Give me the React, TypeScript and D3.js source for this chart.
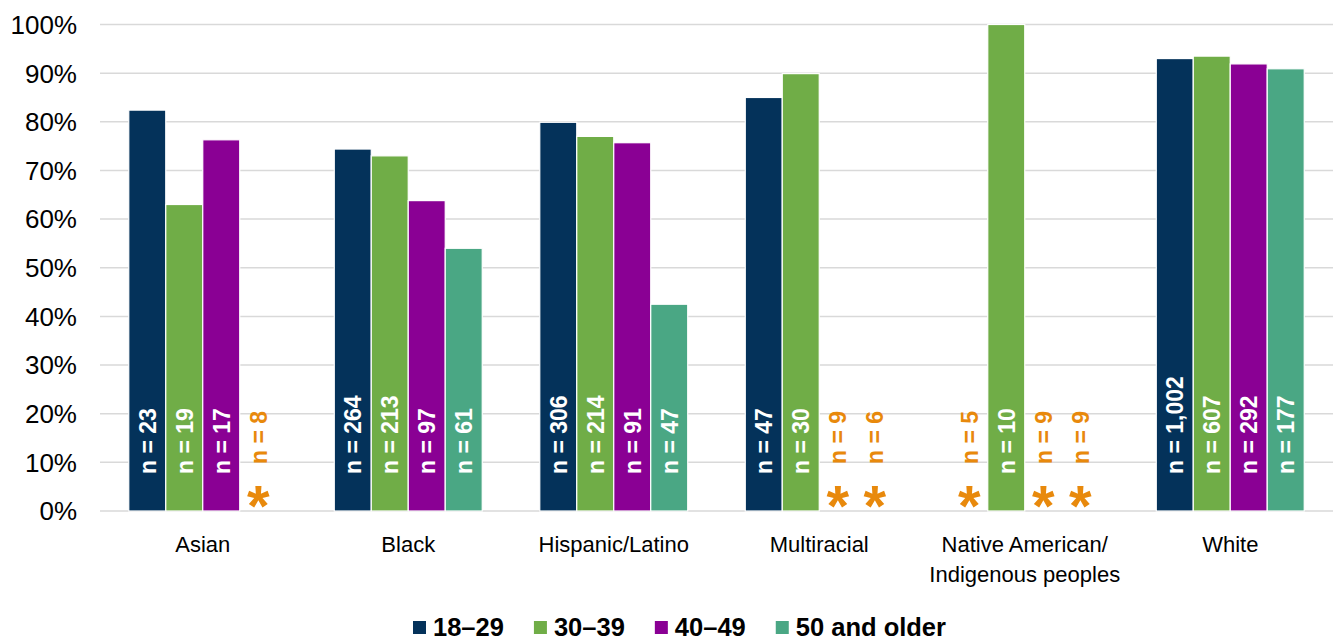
import React, { useEffect, useRef } from "react";
import * as d3 from "d3";

const categories = ["Asian", "Black", "Hispanic/Latino", "Multiracial", "Native American/\nIndigenous peoples", "White"];
const seriesNames = ["18–29", "30–39", "40–49", "50 and older"];
const seriesColors = ["#04325a", "#70ad47", "#8a0094", "#4aa784"];
// null = suppressed (small sample)
const v1829 = [82.4, 74.4, 79.9, 85.0, null, 93.0];
const v3039 = [63.0, 73.0, 77.0, 89.9, 100, 93.5];
const v4049 = [76.3, 63.8, 75.7, null, null, 91.9];
const v50up = [null, 54.0, 42.5, null, null, 90.9];
const n1829 = ["23", "264", "306", "47", "5", "1,002"];
const n3039 = ["19", "213", "214", "30", "10", "607"];
const n4049 = ["17", "97", "91", "9", "9", "292"];
const n50up = ["8", "61", "47", "6", "9", "177"];
const yTicks = [0, 10, 20, 30, 40, 50, 60, 70, 80, 90, 100];

const W = 1333, H = 639;
const ORANGE = "#e8890c";
const FONT = "'Liberation Sans', Arial, sans-serif";

export default function App() {
  const ref = useRef<SVGSVGElement>(null);
  useEffect(() => {
    const svg = d3.select(ref.current);
    svg.selectAll("*").remove();
    const values = [v1829, v3039, v4049, v50up];
    const ns = [n1829, n3039, n4049, n50up];
    const y = d3.scaleLinear().domain([0, 100]).range([511, 24.5]);
    const x0 = d3.scaleBand().domain(categories).range([100, 1333]).paddingInner(0.28).paddingOuter(0.14);
    const x1 = d3.scaleBand().domain(seriesNames).range([0, x0.bandwidth()]).padding(0);

    // gridlines
    svg.append("g").selectAll("line").data(yTicks).join("line")
      .attr("x1", 100).attr("x2", 1333)
      .attr("y1", d => y(d)).attr("y2", d => y(d))
      .attr("stroke", "#d9d9d9").attr("stroke-width", 1.5);

    // y tick labels
    svg.append("g").selectAll("text").data(yTicks).join("text")
      .attr("x", 77).attr("y", d => y(d)).attr("dy", "0.36em")
      .attr("text-anchor", "end").attr("font-family", FONT).attr("font-size", 26)
      .attr("fill", "#000").text(d => d + "%");

    categories.forEach((cat, ci) => {
      seriesNames.forEach((s, si) => {
        const v = values[si][ci];
        const bx = (x0(cat) as number) + (x1(s) as number);
        const bw = x1.bandwidth();
        const cx = bx + bw / 2;
        if (v != null) {
          svg.append("rect")
            .attr("x", bx).attr("y", y(v)).attr("width", bw).attr("height", y(0) - y(v))
            .attr("fill", seriesColors[si]).attr("stroke", "#fff").attr("stroke-width", 1.2);
          svg.append("text")
            .attr("transform", `translate(${cx + 8.5},474) rotate(-90)`)
            .attr("font-family", FONT).attr("font-size", 23).attr("font-weight", "bold")
            .attr("fill", "#fff").text("n = " + ns[si][ci]);
        } else {
          svg.append("text")
            .attr("transform", `translate(${cx + 8.5},464) rotate(-90)`)
            .attr("font-family", FONT).attr("font-size", 23).attr("font-weight", "bold")
            .attr("fill", ORANGE).text("n = " + ns[si][ci]);
          svg.append("text")
            .attr("x", cx).attr("y", 526).attr("text-anchor", "middle")
            .attr("font-family", FONT).attr("font-size", 58).attr("font-weight", "bold")
            .attr("fill", ORANGE).text("*");
        }
      });
      // category label
      const lines = cat.split("\n");
      const t = svg.append("text")
        .attr("x", (x0(cat) as number) + x0.bandwidth() / 2).attr("y", 552)
        .attr("text-anchor", "middle").attr("font-family", FONT).attr("font-size", 22).attr("fill", "#000");
      lines.forEach((ln, i) => {
        t.append("tspan").attr("x", (x0(cat) as number) + x0.bandwidth() / 2)
          .attr("dy", i === 0 ? 0 : 30).text(ln);
      });
    });

    // legend
    let lx = 413;
    seriesNames.forEach((s, i) => {
      svg.append("rect").attr("x", lx).attr("y", 621).attr("width", 13).attr("height", 13)
        .attr("fill", seriesColors[i]);
      const txt = svg.append("text").attr("x", lx + 20).attr("y", 636)
        .attr("font-family", FONT).attr("font-size", 25.5).attr("font-weight", "bold")
        .attr("fill", "#000").text(s);
      const w = (txt.node() as SVGTextElement).getComputedTextLength();
      lx = lx + 20 + w + 30;
    });
  }, []);
  return (
    <svg ref={ref} width={W} height={H} style={{ position: "absolute", left: 0, top: 0, background: "#fff" }} />
  );
}
